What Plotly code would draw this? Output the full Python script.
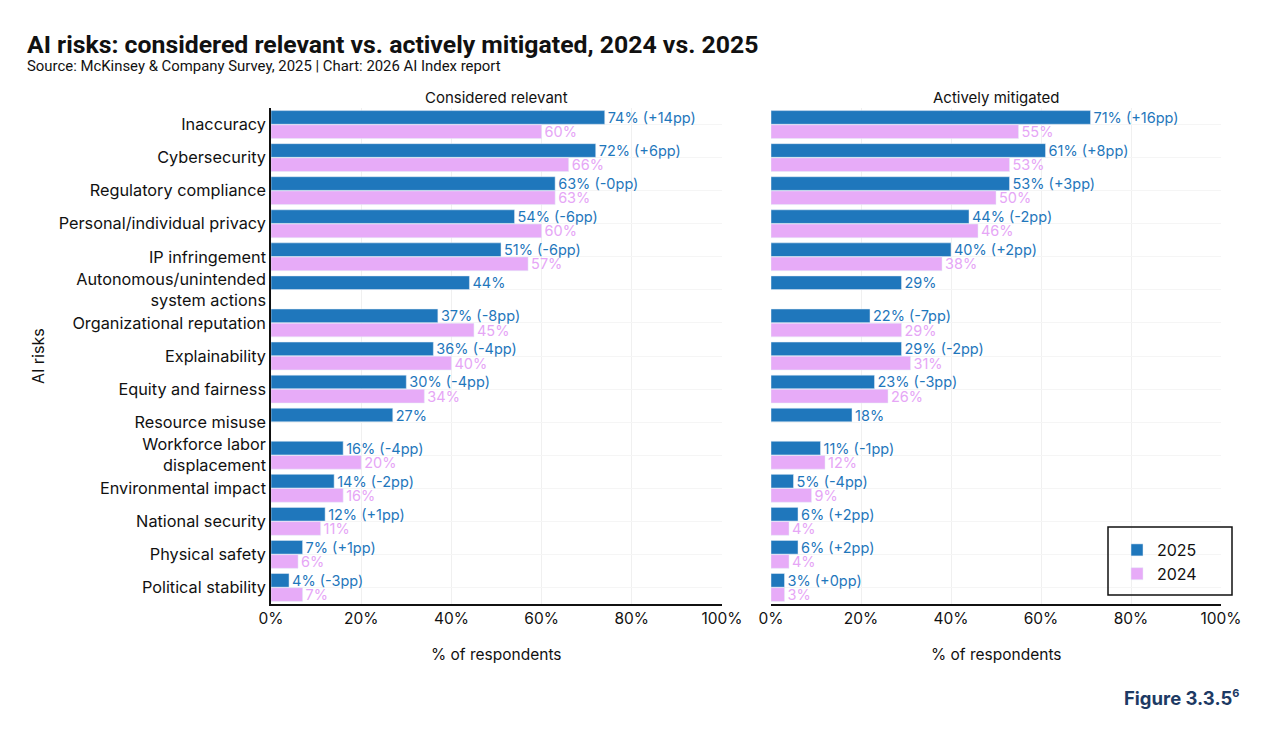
import plotly.graph_objects as go
from plotly.subplots import make_subplots

risks = [
    "Inaccuracy",
    "Cybersecurity",
    "Regulatory compliance",
    "Personal/individual privacy",
    "IP infringement",
    "Autonomous/unintended<br>system actions",
    "Organizational reputation",
    "Explainability",
    "Equity and fairness",
    "Resource misuse",
    "Workforce labor<br>displacement",
    "Environmental impact",
    "National security",
    "Physical safety",
    "Political stability",
]

relevant_2025 = [74, 72, 63, 54, 51, 44, 37, 36, 30, 27, 16, 14, 12, 7, 4]
relevant_2024 = [60, 66, 63, 60, 57, None, 45, 40, 34, None, 20, 16, 11, 6, 7]
relevant_delta = ["+14", "+6", "-0", "-6", "-6", None, "-8", "-4", "-4", None, "-4", "-2", "+1", "+1", "-3"]

mitigated_2025 = [71, 61, 53, 44, 40, 29, 22, 29, 23, 18, 11, 5, 6, 6, 3]
mitigated_2024 = [55, 53, 50, 46, 38, None, 29, 31, 26, None, 12, 9, 4, 4, 3]
mitigated_delta = ["+16", "+8", "+3", "-2", "+2", None, "-7", "-2", "-3", None, "-1", "-4", "+2", "+2", "+0"]

x_ticks = [0, 20, 40, 60, 80, 100]
x_tick_labels = ["0%", "20%", "40%", "60%", "80%", "100%"]

BLUE = "#1F77BC"
PINK = "#E7ABF8"
PINK_TEXT = "#E6A6F6"
FONT = "Inter"
TITLE_FONT = "Roboto"
W, H = 1280, 729
OFF = 8  # page body margin


def px(x):
    return (x - OFF) / W


def py(y):
    return 1 - (y - OFF) / H


def label_2025(vals, deltas):
    out = []
    for v, d in zip(vals, deltas):
        out.append(f"{v}%" if d is None else f"{v}% ({d}pp)")
    return out


def label_2024(vals):
    return ["" if v is None else f"{v}%" for v in vals]


fig = make_subplots(rows=1, cols=2, shared_yaxes=True)

panels = [
    (relevant_2025, relevant_2024, relevant_delta, 1),
    (mitigated_2025, mitigated_2024, mitigated_delta, 2),
]

for v25, v24, dl, col in panels:
    fig.add_trace(
        go.Bar(
            y=risks,
            x=v25,
            orientation="h",
            name="2025",
            marker_color=BLUE,
            text=label_2025(v25, dl),
            textposition="outside",
            constraintext="none",
            textfont=dict(color=BLUE, size=14.5, family=FONT),
            cliponaxis=False,
            showlegend=(col == 1),
            legendgroup="2025",
        ),
        row=1,
        col=col,
    )
    fig.add_trace(
        go.Bar(
            y=risks,
            x=v24,
            orientation="h",
            name="2024",
            marker_color=PINK,
            text=label_2024(v24),
            textposition="outside",
            constraintext="none",
            textfont=dict(color=PINK_TEXT, size=14.5, family=FONT),
            cliponaxis=False,
            showlegend=(col == 1),
            legendgroup="2024",
        ),
        row=1,
        col=col,
    )

# panel positions (reference pixels) -> paper fractions
x1 = [px(271), px(722)]
x2 = [px(771), px(1221)]
ydom = [py(604), py(108)]

xaxis_common = dict(
    range=[0, 100],
    tickvals=x_ticks,
    ticktext=x_tick_labels,
    showgrid=True,
    gridcolor="#F0F0F0",
    gridwidth=1,
    showline=True,
    linecolor="#111111",
    linewidth=1.5,
    zeroline=False,
    ticks="",
    automargin=False,
    tickfont=dict(size=15.5, color="#111111", family=FONT),
)
fig.update_xaxes(domain=x1, row=1, col=1, **xaxis_common)
fig.update_xaxes(domain=x2, row=1, col=2, **xaxis_common)

fig.update_yaxes(
    domain=ydom,
    autorange="reversed",
    showgrid=True,
    gridcolor="#F5F5F5",
    tickfont=dict(size=16.3, color="#111111", family=FONT),
    ticks="",
    zeroline=False,
    automargin=False,
)
fig.update_yaxes(showline=True, linecolor="#111111", linewidth=1.5, row=1, col=1)
fig.update_yaxes(showline=False, row=1, col=2)

fig.update_layout(
    width=W,
    height=H,
    barmode="group",
    bargap=0.14,
    bargroupgap=0.04,
    plot_bgcolor="white",
    paper_bgcolor="white",
    margin=dict(l=0, r=0, t=0, b=0, autoexpand=False),
    font=dict(family=FONT, color="#111111"),
    legend=dict(
        x=px(1117),
        y=py(533),
        xanchor="left",
        yanchor="top",
        borderwidth=0,
        bgcolor="rgba(0,0,0,0)",
        font=dict(size=16, family=FONT),
        traceorder="normal",
        itemwidth=30,
    ),
    shapes=[
        dict(
            type="rect", xref="paper", yref="paper",
            x0=px(1108), x1=px(1232), y0=py(595), y1=py(527),
            line=dict(color="#111111", width=1.5),
        )
    ],
)

annotations = [
    dict(
        text="<b>AI risks: considered relevant vs. actively mitigated, 2024 vs. 2025</b>",
        x=px(25), y=py(45), xanchor="left", yanchor="middle",
        font=dict(size=24.8, family=TITLE_FONT, color="#111111"),
    ),
    dict(
        text="Source: McKinsey & Company Survey, 2025 | Chart: 2026 AI Index report",
        x=px(25), y=py(66), xanchor="left", yanchor="middle",
        font=dict(size=14.9, family=TITLE_FONT, color="#111111"),
    ),
    dict(
        text="Considered relevant",
        x=sum(x1) / 2, y=py(97), xanchor="center", yanchor="middle",
        font=dict(size=15, family=FONT, color="#111111"),
    ),
    dict(
        text="Actively mitigated",
        x=sum(x2) / 2, y=py(97), xanchor="center", yanchor="middle",
        font=dict(size=15, family=FONT, color="#111111"),
    ),
    dict(
        text="% of respondents",
        x=sum(x1) / 2, y=py(654), xanchor="center", yanchor="middle",
        font=dict(size=15.5, family=FONT, color="#111111"),
    ),
    dict(
        text="% of respondents",
        x=sum(x2) / 2, y=py(654), xanchor="center", yanchor="middle",
        font=dict(size=15.5, family=FONT, color="#111111"),
    ),
    dict(
        text="AI risks",
        x=px(38), y=sum(ydom) / 2, xanchor="center", yanchor="middle",
        textangle=-90,
        font=dict(size=16, family=FONT, color="#111111"),
    ),
    dict(
        text="<b>Figure 3.3.5<sup><span style='font-size:11px'>6</span></sup></b>",
        x=px(1241), y=py(697), xanchor="right", yanchor="middle",
        font=dict(size=18.5, family=FONT, color="#1D3A64"),
    ),
]
for a in annotations:
    fig.add_annotation(xref="paper", yref="paper", showarrow=False, **a)

fig.write_html("out.html")
